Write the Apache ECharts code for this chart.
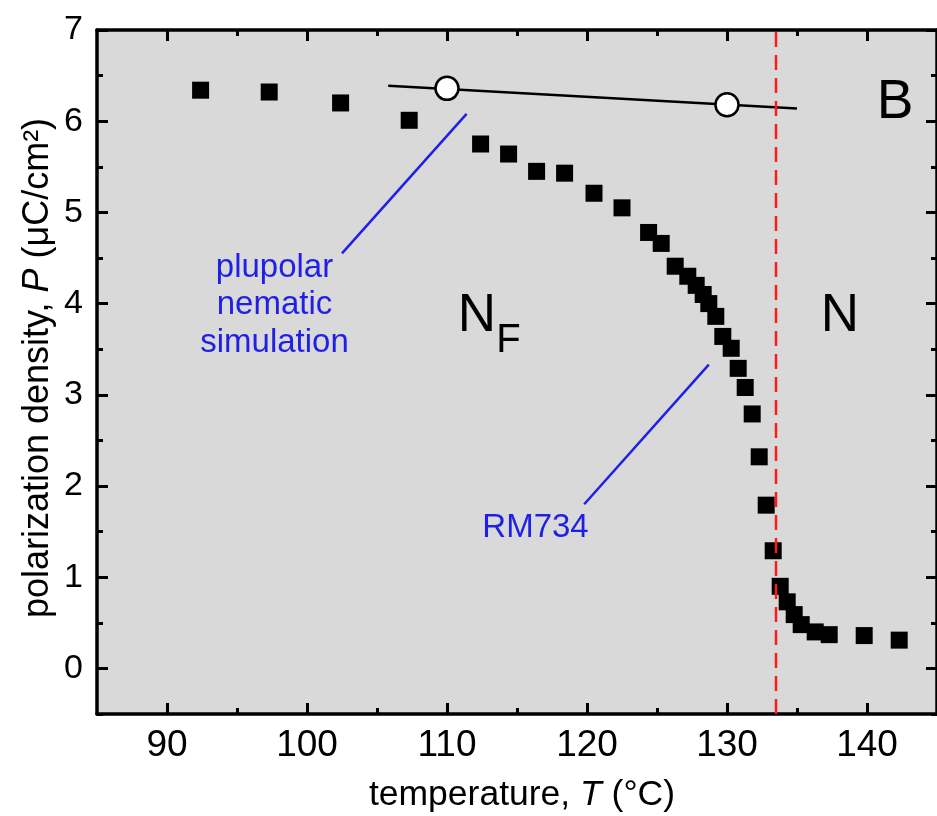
<!DOCTYPE html>
<html>
<head>
<meta charset="utf-8">
<script src="https://cdn.jsdelivr.net/npm/echarts@6/dist/echarts.min.js"></script>
<style>html,body{margin:0;padding:0;background:#fff}#c{width:937px;height:816px}</style>
</head>
<body>
<div id="c"></div>
<script>
// ---- data ----
const temperature = [92.4, 97.3, 102.4, 107.3, 112.4, 114.4, 116.4, 118.4, 120.5, 122.5, 124.4, 125.3, 126.3, 127.2, 127.8, 128.3, 128.7, 129.2, 129.7, 130.3, 130.8, 131.3, 131.8, 132.3, 132.8, 133.3, 133.8, 134.3, 134.8, 135.3, 136.3, 137.3, 139.8, 142.3];
const polarization = [6.34, 6.32, 6.20, 6.01, 5.75, 5.64, 5.45, 5.43, 5.21, 5.05, 4.78, 4.66, 4.41, 4.30, 4.20, 4.10, 4.00, 3.86, 3.64, 3.51, 3.29, 3.08, 2.79, 2.32, 1.79, 1.29, 0.90, 0.73, 0.59, 0.48, 0.40, 0.37, 0.36, 0.31];
const simTemperature = [110, 130];
const simPolarization = [6.36, 6.18];
const simFitLine = [[105.8, 6.39], [135.0, 6.14]];
const transitionT = 133.5;
const simLeader = [[111.4, 6.08], [102.5, 4.55]];
const rmLeader = [[128.7, 3.33], [119.8, 1.80]];
const xMajorTicks = [90, 100, 110, 120, 130, 140];
const xMinorTicks = [95, 105, 115, 125, 135, 145];
const yMajorTicks = [0, 1, 2, 3, 4, 5, 6, 7];
const yMinorTicks = [-0.5, 0.5, 1.5, 2.5, 3.5, 4.5, 5.5, 6.5];
const xRange = [85, 145];
const yRange = [-0.5, 7];

const FONT = "'Liberation Sans', Arial, sans-serif";
const chart = echarts.init(document.getElementById('c'), null, {renderer: 'canvas'});

function xAx(pos, values, len, showLine, showLabel) {
  return {
    type: 'value', min: xRange[0], max: xRange[1], position: pos, gridIndex: 0,
    axisLine: {show: showLine, onZero: false, lineStyle: {color: '#000', width: 3.5}},
    axisTick: {show: true, inside: true, length: len, customValues: values, lineStyle: {color: '#000', width: 3}},
    axisLabel: {show: showLabel, customValues: values, fontSize: 37, color: '#000', margin: 13, fontFamily: FONT},
    splitLine: {show: false}
  };
}
function yAx(pos, values, len, showLine, showLabel) {
  return {
    type: 'value', min: yRange[0], max: yRange[1], position: pos, gridIndex: 0,
    axisLine: {show: showLine, onZero: false, lineStyle: {color: '#000', width: 3.5}},
    axisTick: {show: true, inside: true, length: len, customValues: values, lineStyle: {color: '#000', width: 3}},
    axisLabel: {show: showLabel, customValues: values, fontSize: 34, color: '#000', margin: 14, fontFamily: FONT},
    splitLine: {show: false}
  };
}

const option = {
  animation: false,
  backgroundColor: '#ffffff',
  grid: {left: 97, right: -6, top: 30, bottom: 102, show: true, backgroundColor: '#d9d9d9', borderWidth: 0, containLabel: false},
  xAxis: [
    xAx('bottom', xMajorTicks, 11, true, true),
    xAx('bottom', xMinorTicks, 6, false, false),
    xAx('top', xMajorTicks, 11, true, false),
    xAx('top', xMinorTicks, 6, false, false)
  ],
  yAxis: [
    yAx('left', yMajorTicks, 11, true, true),
    yAx('left', yMinorTicks, 6, false, false),
    yAx('right', yMajorTicks, 11, true, false),
    yAx('right', yMinorTicks, 6, false, false)
  ],
  series: [
    {
      type: 'line', data: simLeader, showSymbol: false, symbol: 'none', z: 3,
      lineStyle: {color: '#1f1fe6', width: 2.5}, silent: true
    },
    {
      type: 'line', data: rmLeader, showSymbol: false, symbol: 'none', z: 3,
      lineStyle: {color: '#1f1fe6', width: 2.5}, silent: true
    },
    {
      type: 'line', data: simFitLine, showSymbol: false, symbol: 'none', z: 3,
      lineStyle: {color: '#000', width: 2.5}, silent: true
    },
    {
      type: 'scatter', data: temperature.map((t, i) => [t, polarization[i]]),
      symbol: 'rect', symbolSize: 17, z: 4,
      itemStyle: {color: '#000', opacity: 1}
    },
    {
      type: 'scatter', data: simTemperature.map((t, i) => [t, simPolarization[i]]),
      symbol: 'circle', symbolSize: 23, z: 5,
      itemStyle: {color: '#fff', borderColor: '#000', borderWidth: 2.5, opacity: 1}
    },
    {
      type: 'line', data: [[transitionT, yRange[0]], [transitionT, yRange[1]]], showSymbol: false, symbol: 'none', z: 6,
      lineStyle: {color: '#ff1a1a', width: 2.5, type: [15, 8]}, silent: true
    }
  ],
  graphic: [
    {type: 'text', x: 274.5, y: 305, z: 10, style: {text: 'plupolar\nnematic\nsimulation', fontSize: 33, lineHeight: 37.5, fontFamily: FONT, fill: '#1f1fe6', align: 'center', verticalAlign: 'middle', textAlign: 'center', textVerticalAlign: 'middle'}},
    {type: 'text', x: 535.5, y: 528, z: 10, style: {text: 'RM734', fontSize: 33, fontFamily: FONT, fill: '#1f1fe6', align: 'center', verticalAlign: 'middle', textAlign: 'center', textVerticalAlign: 'middle'}},
    {type: 'text', x: 477, y: 316, z: 10, style: {text: 'N', fontSize: 53, fontFamily: FONT, fill: '#000', align: 'center', verticalAlign: 'middle', textAlign: 'center', textVerticalAlign: 'middle'}},
    {type: 'text', x: 508.5, y: 341, z: 10, style: {text: 'F', fontSize: 40, fontFamily: FONT, fill: '#000', align: 'center', verticalAlign: 'middle', textAlign: 'center', textVerticalAlign: 'middle'}},
    {type: 'text', x: 840, y: 316, z: 10, style: {text: 'N', fontSize: 53, fontFamily: FONT, fill: '#000', align: 'center', verticalAlign: 'middle', textAlign: 'center', textVerticalAlign: 'middle'}},
    {type: 'text', x: 895, y: 103, z: 10, style: {text: 'B', fontSize: 55, fontFamily: FONT, fill: '#000', align: 'center', verticalAlign: 'middle', textAlign: 'center', textVerticalAlign: 'middle'}},
    {type: 'text', x: 522, y: 795, z: 10, style: {text: 'temperature, {i|T} (°C)', fontSize: 35.5, fontFamily: FONT, fill: '#000', align: 'center', verticalAlign: 'middle', textAlign: 'center', textVerticalAlign: 'middle',
      rich: {i: {fontStyle: 'italic', fontSize: 35.5, fontFamily: FONT, fill: '#000'}}}},
    {type: 'text', x: 38, y: 368, rotation: Math.PI / 2, z: 10, style: {text: 'polarization density, {i|P} (μC/cm²)', fontSize: 36, fontFamily: FONT, fill: '#000', align: 'center', verticalAlign: 'middle', textAlign: 'center', textVerticalAlign: 'middle',
      rich: {i: {fontStyle: 'italic', fontSize: 36, fontFamily: FONT, fill: '#000'}}}}
  ]
};
chart.setOption(option);
</script>
</body>
</html>
